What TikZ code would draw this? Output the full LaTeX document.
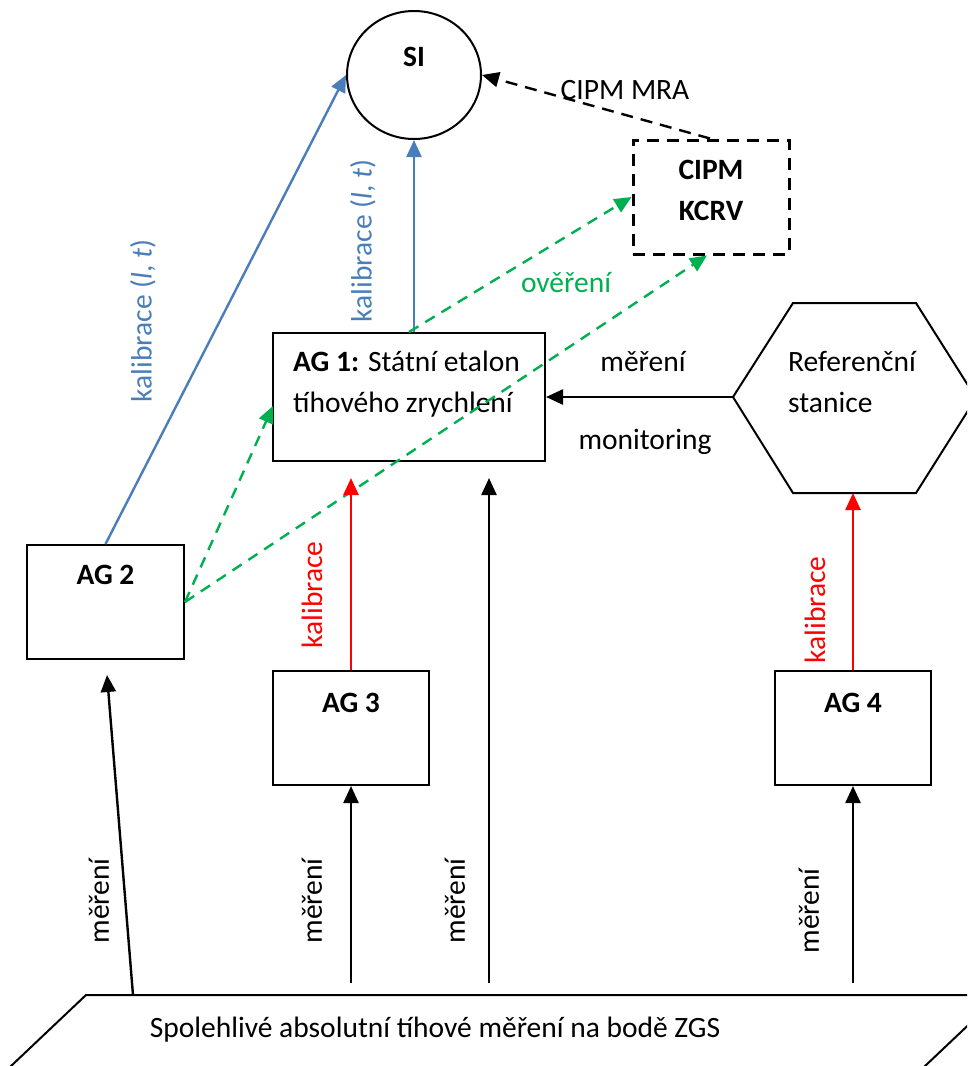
\documentclass[tikz,border=0pt]{standalone}
\usepackage{fontspec}
\setmainfont{Carlito}
\usetikzlibrary{arrows.meta,shapes.geometric}
\definecolor{cblue}{RGB}{74,126,187}
\definecolor{cgreen}{RGB}{0,176,80}
\definecolor{cred}{RGB}{255,0,0}
\begin{document}
\begin{tikzpicture}[x=1pt,y=-1pt,
  font=\fontsize{29.5}{41}\selectfont,
  box/.style={draw, line width=2pt, inner sep=0pt},
  dbox/.style={draw, line width=3pt, inner sep=0pt, dash pattern=on 12pt off 8pt},
  arr/.style={line width=2.4pt, -{Triangle[length=17pt,width=15pt]}},
  blk/.style={arr, black},
  blu/.style={arr, cblue},
  rd/.style={arr, cred, line width=2.6pt},
  grn/.style={line width=2.4pt, cgreen, dash pattern=on 11pt off 8pt, -{Triangle[length=17pt,width=15pt]}},
  bdash/.style={line width=2.4pt, black, dash pattern=on 12pt off 8pt, -{Triangle[length=17pt,width=15pt]}},
  lbl/.style={inner sep=0pt}
]
\useasboundingbox (0,0) rectangle (967,1066);
\clip (0,0) rectangle (967,1066);

% shapes
\node[draw, line width=2pt, ellipse, minimum width=134pt, minimum height=128pt, inner sep=0pt] (si) at (414,75) {};
\node[lbl, font=\fontsize{29.5}{41}\selectfont\bfseries] (sit) at (414,57) {SI};

\node[dbox, minimum width=156pt, minimum height=114pt] (cipm) at (711,197) {};
\node[lbl, align=center, font=\fontsize{29.5}{41}\selectfont\bfseries] (cipmt) at (711,190) {CIPM\\KCRV};

\node[box, minimum width=272pt, minimum height=128pt] (ag1) at (409,397) {};
\node[lbl, anchor=west, align=left] (ag1t) at (293,384) {\textbf{AG 1:} Státní etalon\\tíhového zrychlení};

\node[box, minimum width=157pt, minimum height=114pt] (ag2) at (105.5,602) {};
\node[lbl, font=\fontsize{29.5}{41}\selectfont\bfseries] (ag2t) at (105.5,575) {AG 2};

\node[box, minimum width=156pt, minimum height=114pt] (ag3) at (351,728) {};
\node[lbl, font=\fontsize{29.5}{41}\selectfont\bfseries] (ag3t) at (351,703) {AG 3};

\node[box, minimum width=156pt, minimum height=114pt] (ag4) at (853,728) {};
\node[lbl, font=\fontsize{29.5}{41}\selectfont\bfseries] (ag4t) at (853,703) {AG 4};

% hexagon
\coordinate (hexL) at (733,397);
\coordinate (hexB) at (853,493);
\draw[line width=2pt] (hexL) -- (793,303) -- (916,303) -- (976,398) -- (916,493) -- (793,493) -- cycle;
\node[lbl, anchor=west, align=left] (hext) at (788,382) {Referenční\\stanice};

% parallelogram
\draw[line width=2pt] (86,995) -- (1000,995) -- (905,1085) -- (-9,1085) -- cycle;
\node[lbl] (zgs) at (435,1030) {Spolehlivé absolutní tíhové měření na bodě ZGS};

% coordinates for free ends
\coordinate (p1) at (133,995);
\coordinate (p2) at (351,983);
\coordinate (p3) at (489,983);
\coordinate (p4) at (853,983);
\coordinate (e1) at (107,675);
\coordinate (e3) at (489,478);
\coordinate (r1) at (351,478);
\coordinate (ag1l) at (273,406);

% blue
\draw[blu] (ag2.north) -- (si.west);
\draw[blu] (si.south |- ag1.north) -- (si.south);
\node[lbl, rotate=90, text=cblue] (kb1) at (143,321) {kalibrace (\textit{l}, \textit{t})};
\node[lbl, rotate=90, text=cblue] (kb2) at (363,241) {kalibrace (\textit{l}, \textit{t})};

% black dashed
\draw[bdash] ([xshift=-1pt]cipm.north) -- (si.east);
\node[lbl] (mra) at (625,90) {CIPM MRA};

% green dashed
\draw[grn] (ag2.east) -- (ag1l);
\draw[grn] (ag2.east) -- ([xshift=-4pt]cipm.south);
\draw[grn] (ag1.north) -- (cipm.west);
\node[lbl, text=cgreen] (over) at (566,283) {ověření};

% hex -> ag1
\draw[blk] (hexL) -- (ag1.east);
\node[lbl] (mer0) at (643,362) {měření};
\node[lbl] (mon) at (645,442) {monitoring};

% red
\draw[rd] (ag3.north) -- (r1);
\draw[rd] (ag4.north) -- (hexB);
\node[lbl, rotate=90, text=cred] (kr1) at (312,595) {kalibrace};
\node[lbl, rotate=90, text=cred] (kr2) at (815,610) {kalibrace};

% black from bottom
\draw[blk] (p1) -- (e1);
\draw[blk] (p2) -- (ag3.south);
\draw[blk] (p3) -- (e3);
\draw[blk] (p4) -- (ag4.south);
\node[lbl, rotate=90] (m1) at (99,901) {měření};
\node[lbl, rotate=90] (m2) at (312,901) {měření};
\node[lbl, rotate=90] (m3) at (455,901) {měření};
\node[lbl, rotate=90] (m4) at (809,911) {měření};
\end{tikzpicture}
\end{document}
